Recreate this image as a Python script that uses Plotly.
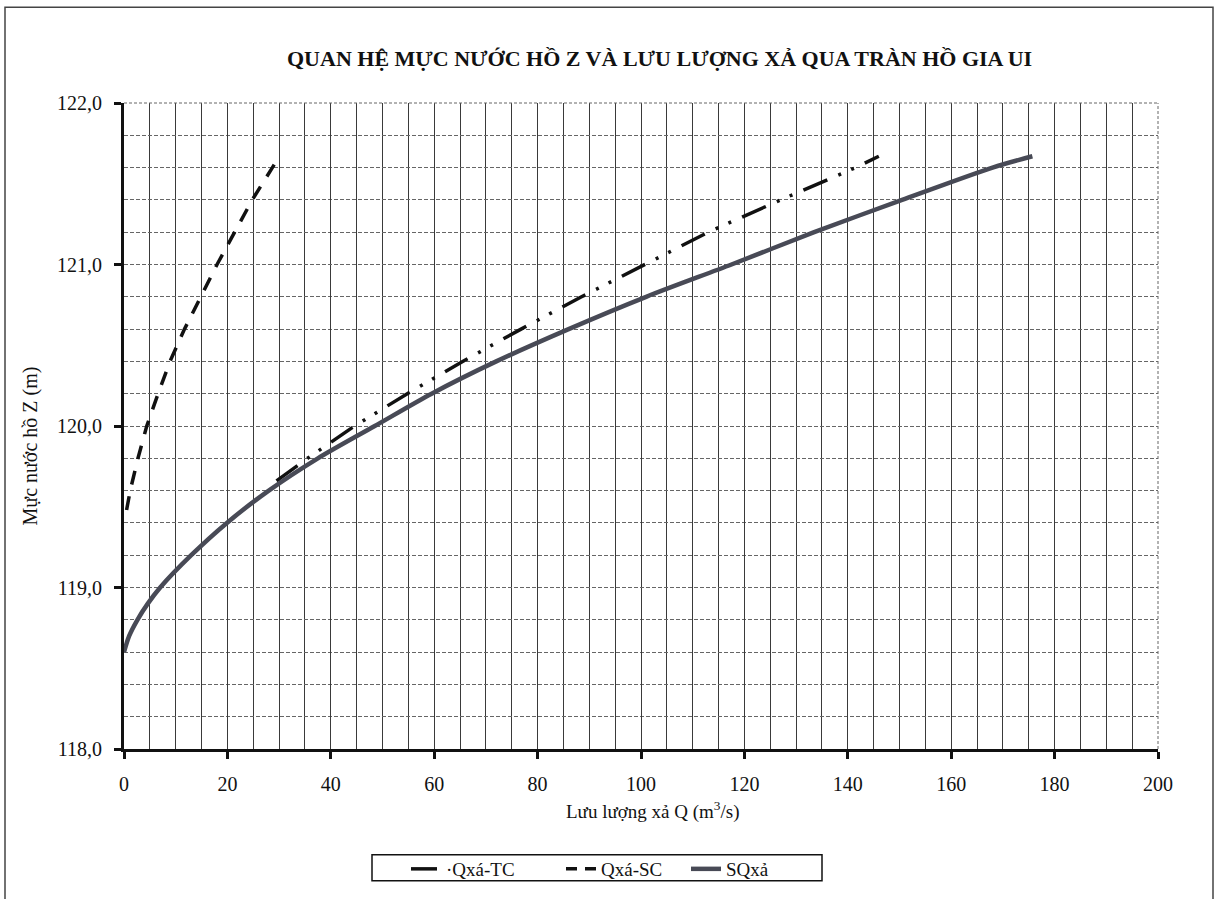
import plotly.graph_objects as go

# ---- data ----
z_tc = [119.66, 119.8, 120.0, 120.2, 120.4, 120.6, 120.8, 121.0, 121.2, 121.4, 121.6, 121.67]
q_tc = [29.5, 35.5, 44.6, 54.8, 65.5, 76.8, 88.5, 100.8, 113.0, 127.0, 141.5, 146.0]

z_sc = [119.48, 119.6, 119.8, 120.0, 120.2, 120.4, 120.6, 120.8, 121.0, 121.2, 121.4, 121.6, 121.67]
q_sc = [0.5, 1.2, 2.7, 4.4, 6.6, 8.9, 11.7, 14.8, 18.0, 21.4, 24.8, 28.7, 30.0]

z_sum = [118.6, 118.7, 118.8, 118.9, 119.0, 119.2, 119.4, 119.6, 119.8, 120.0, 120.2, 120.4,
         120.6, 120.8, 121.0, 121.2, 121.4, 121.6, 121.67]
q_sum = [0.0, 1.0, 2.6, 4.6, 7.0, 13.0, 19.9, 28.0, 37.5, 48.5, 59.5, 72.0,
         86.0, 101.0, 117.5, 133.5, 150.5, 168.0, 175.7]

names = ["\u00b7Qx\u00e1-TC", "Qx\u00e1-SC", "SQx\u1ea3"]
title_text = "QUAN H\u1ec6 M\u1ef0C N\u01af\u1edaC H\u1ed2 Z V\u00c0 L\u01afU L\u01af\u1ee2NG X\u1ea2 QUA TR\u00c0N H\u1ed2 GIA UI"
x_title = "L\u01b0u l\u01b0\u1ee3ng x\u1ea3 Q (m<sup>3</sup>/s)"
y_title = "M\u1ef1c n\u01b0\u1edbc h\u1ed3 Z (m)"

FONT = "Liberation Serif, Times New Roman, serif"

fig = go.Figure()
fig.add_trace(go.Scatter(x=q_tc, y=z_tc, mode="lines", name=names[0], legend="legend",
                         line=dict(color="#111111", width=3.5,
                                   dash="26px,12px,3px,11px,3px,12px")))
fig.add_trace(go.Scatter(x=q_sc, y=z_sc, mode="lines", name=names[1], showlegend=False,
                         line=dict(color="#111111", width=3.5, dash="14px,12px")))
# legend-only entry for the SC series (shorter dash so the sample shows two dashes)
fig.add_trace(go.Scatter(x=[None], y=[None], mode="lines", name=names[1], legend="legend2",
                         line=dict(color="#111111", width=3.5, dash="11px,8px")))
fig.add_trace(go.Scatter(x=q_sum, y=z_sum, mode="lines", name=names[2], legend="legend3",
                         line=dict(color="#484a56", width=4.5, shape="spline", smoothing=0.8)))

W, H = 1218, 899
L, R, T, B = 124, 60, 103, 149
pw, ph = W - L - R, H - T - B

def px_x(p):
    return (p - L) / pw

def px_y(p):
    return (H - B - p) / ph

def leg(xpx):
    return dict(orientation="h", x=px_x(xpx), y=px_y(869), xanchor="left", yanchor="middle",
                borderwidth=0, bgcolor="rgba(0,0,0,0)",
                font=dict(family=FONT, size=19, color="#111111"))

fig.update_layout(
    width=W, height=H,
    margin=dict(l=L, r=R, t=T, b=B),
    paper_bgcolor="white", plot_bgcolor="white",
    separators=",.",
    font=dict(family=FONT, color="#111111", size=18),
    showlegend=True,
    legend=leg(406), legend2=leg(561), legend3=leg(686),
    annotations=[
        dict(text="<b>" + title_text + "</b>", xref="paper", yref="paper",
             x=px_x(659), y=px_y(58), xanchor="center", yanchor="middle",
             showarrow=False, font=dict(family=FONT, size=22, color="#111111")),
        dict(text=x_title, xref="paper", yref="paper",
             x=px_x(652), y=px_y(812), xanchor="center", yanchor="middle",
             showarrow=False, font=dict(family=FONT, size=19, color="#111111")),
        dict(text=y_title, xref="paper", yref="paper", textangle=-90,
             x=px_x(30), y=px_y(447), xanchor="center", yanchor="middle",
             showarrow=False, font=dict(family=FONT, size=20, color="#111111")),
    ],
    shapes=[
        dict(type="rect", xref="paper", yref="paper",
             x0=px_x(5), x1=px_x(1213), y0=px_y(7), y1=px_y(910),
             line=dict(color="#444444", width=1.5), fillcolor="rgba(0,0,0,0)", layer="below"),
        dict(type="rect", xref="paper", yref="paper",
             x0=px_x(372), x1=px_x(822), y0=px_y(856), y1=px_y(882),
             line=dict(color="#111111", width=1.5), fillcolor="rgba(0,0,0,0)"),
        dict(type="line", xref="paper", yref="paper", x0=0, x1=1, y0=1, y1=1,
             line=dict(color="#666666", width=1, dash="3px,2px")),
        dict(type="line", xref="paper", yref="paper", x0=1, x1=1, y0=0, y1=1,
             line=dict(color="#666666", width=1, dash="3px,2px")),
    ],
)

fig.update_xaxes(
    range=[0, 200], dtick=20, tick0=0,
    showline=True, linecolor="#111111", linewidth=3,
    ticks="outside", ticklen=7, tickwidth=3, tickcolor="#111111",
    ticklabelstandoff=8,
    showgrid=True, gridcolor="#3a3a3a", gridwidth=1,
    minor=dict(dtick=5, showgrid=True, gridcolor="#3a3a3a", gridwidth=1, ticks=""),
    zeroline=False,
    tickfont=dict(family=FONT, size=20, color="#111111"),
)
fig.update_yaxes(
    range=[118, 122], dtick=1, tick0=118, tickformat=".1f",
    showline=True, linecolor="#111111", linewidth=3,
    ticks="outside", ticklen=7, tickwidth=3, tickcolor="#111111",
    ticklabelstandoff=8,
    showgrid=True, gridcolor="#666666", gridwidth=1, griddash="4px,2px",
    minor=dict(dtick=0.2, showgrid=True, gridcolor="#666666", gridwidth=1,
               griddash="4px,2px", ticks=""),
    zeroline=False,
    tickfont=dict(family=FONT, size=20, color="#111111"),
)

fig.write_html("out.html", config={"displayModeBar": False},
               post_script="document.body.style.margin='0';document.body.style.overflow='hidden';")
